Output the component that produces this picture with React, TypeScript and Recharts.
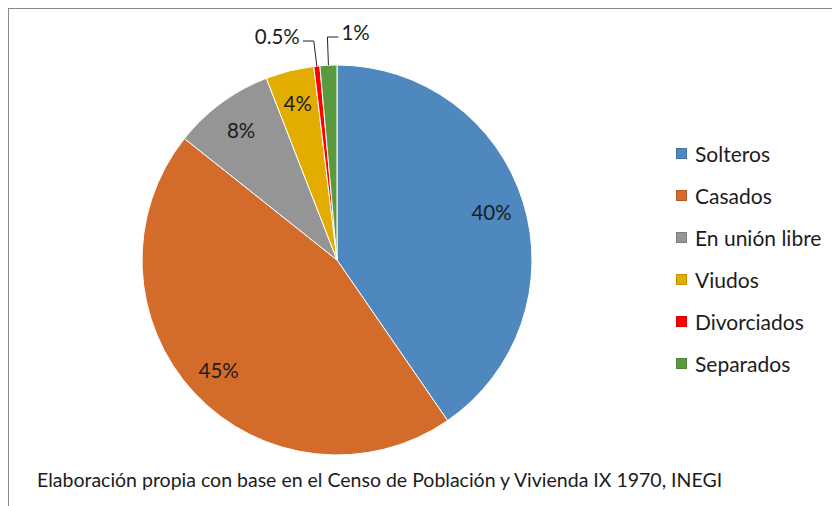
import React from "react";
import { Cell, Legend, Pie, PieChart } from "recharts";

const categories = ["Solteros", "Casados", "En unión libre", "Viudos", "Divorciados", "Separados"];
const shares = [40.4, 45.3, 8.4, 4.0, 0.5, 1.4];
const colors = ["#4F88BE", "#D36C2A", "#959595", "#E2AC00", "#FF0000", "#5B9A3C"];
const caption = "Elaboración propia con base en el Censo de Población y Vivienda IX 1970, INEGI";

const data = categories.map((name, i) => ({ name, value: shares[i] }));

const RAD = Math.PI / 180;
const FONT = "Lato, 'Noto Sans', sans-serif";
const TEXT = "#1c1c1c";

const fmt = (v: number) => (v < 1 ? v.toFixed(1) : String(Math.round(v))) + "%";

function renderLabel(props: any) {
  const { cx, cy, midAngle, outerRadius, value, index } = props;
  const cos = Math.cos(-midAngle * RAD);
  const sin = Math.sin(-midAngle * RAD);
  if (value >= 2) {
    const r = outerRadius * 0.83;
    return (
      <text
        x={cx + r * cos}
        y={cy + r * sin}
        textAnchor="middle"
        dominantBaseline="central"
        fontSize={20.5}
        fontFamily={FONT}
        fill={TEXT}
      >
        {fmt(value)}
      </text>
    );
  }
  // small slices: elbow leader line out the top
  const side = index === 4 ? -1 : 1;
  const px = cx + outerRadius * cos;
  const py = cy + outerRadius * sin;
  const lift = side < 0 ? 24 : 28;
  const ex = px + (side < 0 ? -3 : -1);
  const ey = cy - outerRadius - lift;
  const hx = ex + side * 11;
  return (
    <g>
      <polyline points={`${px},${py} ${ex},${ey} ${hx},${ey}`} fill="none" stroke="#222" strokeWidth={1} />
      <text
        x={hx + side * 3}
        y={ey - 5}
        textAnchor={side < 0 ? "end" : "start"}
        dominantBaseline="central"
        fontSize={20.5}
        fontFamily={FONT}
        fill={TEXT}
      >
        {fmt(value)}
      </text>
    </g>
  );
}

function LegendBox() {
  return (
    <div style={{ fontFamily: FONT, fontSize: 21, color: TEXT }}>
      {categories.map((name, i) => (
        <div key={name} style={{ display: "flex", alignItems: "center", height: 42 }}>
          <span
            style={{
              width: 9,
              height: 9,
              background: colors[i],
              border: "1px solid rgba(0,0,0,0.15)",
              marginRight: 8,
              display: "inline-block",
            }}
          />
          <span>{name}</span>
        </div>
      ))}
    </div>
  );
}

export default function App() {
  return (
    <div
      style={{
        position: "relative",
        width: 900,
        height: 560,
        borderLeft: "1px solid #8a8a8a",
        borderTop: "1px solid #8a8a8a",
        background: "#fff",
      }}
    >
      <PieChart width={832} height={498} margin={{ top: 0, right: 0, bottom: 0, left: 0 }}>
        <Pie
          data={data}
          dataKey="value"
          nameKey="name"
          cx={328}
          cy={251}
          outerRadius={195}
          startAngle={90}
          endAngle={-270}
          stroke="#fff"
          strokeWidth={1}
          label={renderLabel}
          labelLine={false}
          isAnimationActive={false}
        >
          {data.map((d, i) => (
            <Cell key={d.name} fill={colors[i]} />
          ))}
        </Pie>
        <Legend
          layout="vertical"
          content={() => <LegendBox />}
          wrapperStyle={{ left: 667, top: 123, width: 170 }}
        />
      </PieChart>
      <div
        style={{
          position: "absolute",
          left: 28,
          top: 459,
          fontFamily: FONT,
          fontSize: 19.5,
          color: TEXT,
          whiteSpace: "nowrap",
        }}
      >
        {caption}
      </div>
    </div>
  );
}
